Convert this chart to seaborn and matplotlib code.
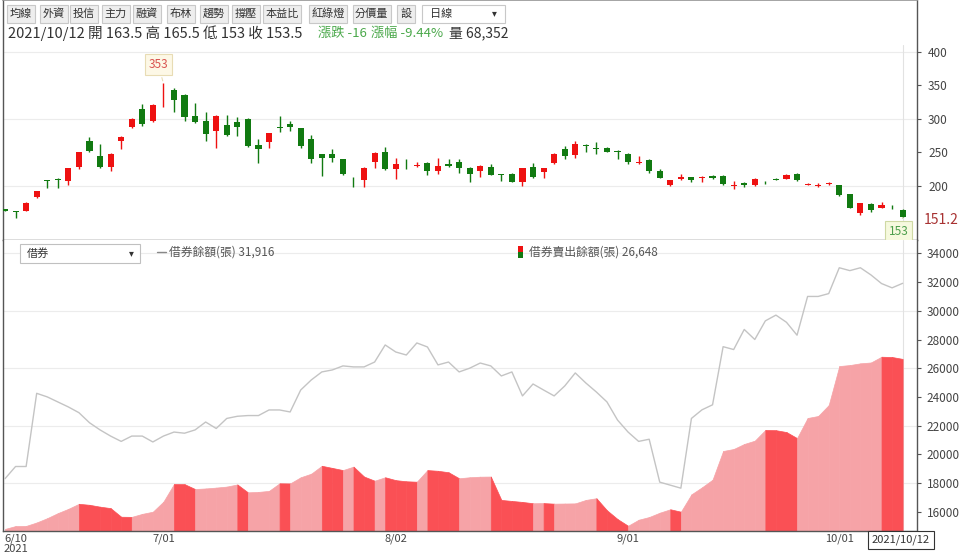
import numpy as np
import pandas as pd
import matplotlib.pyplot as plt
from matplotlib.patches import Rectangle
import seaborn as sns

sns.set_theme(style='white')
plt.rcParams['font.family'] = ['Noto Sans CJK TC', 'DejaVu Sans']
plt.rcParams['axes.unicode_minus'] = False

# 交易日 (2021/6/9 ~ 2021/10/12)
holidays = ['2021-06-14', '2021-09-20', '2021-09-21', '2021-10-11']
dates = pd.bdate_range('2021-06-09', '2021-10-12', freq='C', holidays=holidays)

# K 線
opens = [165, 162, 163, 183, 208.5, 211, 207.5, 229, 267.5, 245,
         228, 267, 288.5, 315, 297, 337, 344, 336, 305, 296.5,
         281.5, 290.5, 295, 300, 261.5, 265, 288, 293, 286.5, 270.5,
         247.5, 248.5, 240, 208, 209, 236.5, 250, 225, 230.5, 230,
         235, 222.5, 232.5, 236.5, 227.5, 222, 229, 218, 218, 206.5,
         229, 220.5, 234, 254.5, 246.5, 261.5, 256, 256.5, 252, 248,
         234.5, 239, 222.5, 201.5, 210.5, 213, 211.5, 215, 215.5, 200.5,
         205, 201, 205, 211, 211, 218.5, 202, 200.5, 203, 201,
         187.5, 159.5, 173.5, 167.5, 170.5, 163.5]
highs = [166, 162.5, 176, 193, 209, 212.5, 227, 251, 273, 262.5,
         249, 274, 301, 322.5, 322, 353, 346.5, 337, 324, 310,
         306, 306.5, 302.5, 301.5, 270, 279.5, 305, 297.5, 287, 276.5,
         248, 255, 241, 214, 228, 250, 257.5, 241.5, 240, 236.5,
         236, 242.5, 240.5, 240, 228, 231, 232.5, 218.5, 219, 227,
         234, 227, 249, 259, 266.5, 262.5, 265, 258, 253, 249,
         245.5, 240, 225.5, 209.5, 218, 213.5, 215.5, 216.5, 216, 207,
         205.5, 211.5, 207, 211.5, 218.5, 219.5, 205, 204.5, 206, 202,
         188, 175, 174, 176, 171, 165.5]
lows = [162, 151.5, 162, 182, 196.5, 197, 201.5, 226, 251, 227,
        223, 255, 286.5, 290, 296, 317.5, 311, 297, 294, 266.5,
        256.5, 275, 274, 258, 235, 256.5, 280, 281.5, 256.5, 235,
        215.5, 236.5, 216, 199, 199, 227.5, 224, 210.5, 225.5, 229,
        216.5, 218, 229, 219, 205.5, 214, 216, 207.5, 206, 200.5,
        212, 212.5, 232.5, 240, 241.5, 250.5, 247.5, 250, 240, 232.5,
        232.5, 220, 212, 200, 209, 205.5, 205.5, 211, 202, 196,
        198.5, 200, 202.5, 209, 210, 208, 201.5, 198.5, 202, 185.5,
        167, 157, 161, 167, 165, 153]
closes = [163, 161, 175, 192.5, 207, 209.5, 226.5, 250, 252.5, 228,
          248.5, 273.5, 300, 292, 321.5, 338, 328, 303, 295.5, 278,
          305, 275.5, 288.5, 259, 255, 279, 287, 287.5, 260, 240,
          241.5, 241.5, 217.5, 207, 227.5, 249, 225, 232.5, 229.5, 231,
          222.5, 230.5, 229.5, 226.5, 218, 230, 216.5, 217, 206.5, 226.5,
          214, 226.5, 248.5, 245, 262.5, 259, 255, 250.5, 251, 236.5,
          235.5, 223, 212.5, 209, 214, 209, 213, 211.5, 202.5, 201.5,
          201, 211, 204, 209.5, 216, 208.5, 203, 201.5, 204, 186,
          167.5, 174.5, 163.5, 172, 169.5, 153.5]

# 借券餘額(張) 與 借券賣出餘額(張)
lend_balance = [18300, 19150, 19150, 24250, 24000, 23650, 23300, 22900, 22200, 21700,
                21270, 20900, 21270, 21270, 20860, 21270, 21550, 21470, 21700, 22250,
                21800, 22500, 22650, 22700, 22700, 23090, 23090, 22950, 24480, 25180,
                25740, 25880, 26160, 26090, 26090, 26430, 27620, 27130, 26920, 27760,
                27480, 26230, 26430, 25740, 26000, 26360, 26160, 25460, 25740, 24070,
                24900, 24480, 24070, 24760, 25670, 24970, 24340, 23650, 22390, 21550,
                20900, 21050, 18060, 17850, 17640, 22500, 23100, 23450, 27500, 27300,
                28700, 28000, 29300, 29700, 29200, 28300, 31000, 31000, 31200, 33000,
                32800, 33000, 32500, 31900, 31600, 31916]
short_balance = [14800, 15000, 15010, 15250, 15550, 15900, 16200, 16550, 16480, 16350,
                 16250, 15650, 15640, 15850, 16000, 16700, 17930, 17920, 17580, 17620,
                 17680, 17750, 17900, 17350, 17380, 17450, 17980, 17970, 18400, 18650,
                 19200, 19050, 18900, 19140, 18450, 18160, 18400, 18200, 18120, 18090,
                 18900, 18850, 18750, 18330, 18400, 18440, 18450, 16820, 16750, 16680,
                 16590, 16600, 16560, 16570, 16580, 16820, 16940, 16100, 15490, 15020,
                 15440, 15630, 15930, 16170, 16000, 17210, 17700, 18230, 20230, 20370,
                 20720, 20950, 21700, 21680, 21550, 21130, 22530, 22670, 23430, 26150,
                 26220, 26340, 26400, 26800, 26780, 26648]

tick_dates = ['2021-06-10', '2021-07-01', '2021-08-02', '2021-09-01', '2021-10-01']
tick_labels = ['6/10\n2021', '7/01', '8/02', '9/01', '10/01']

RED, GREEN = '#ee1111', '#117a11'
DARK, LIGHT = '#fa5055', '#f6a3a7'
W, H = 960, 559


def box(x0, y0, x1, y1):
    return [x0 / W, 1 - y1 / H, (x1 - x0) / W, (y1 - y0) / H]


fig = plt.figure(figsize=(9.6, 5.59), dpi=100)
fig.patch.set_facecolor('white')
ax1 = fig.add_axes(box(3, 0, 917, 240))
ax2 = fig.add_axes(box(3, 240, 917, 531))

x = np.arange(len(dates))
o, h, l, c = map(np.array, (opens, highs, lows, closes))
cols = np.where(c >= o, RED, GREEN)

# ---- 上方 K 線圖 ----
for g in (200, 300, 400):
    ax1.axhline(g, color='#ececec', lw=0.8, zorder=0)
ax1.axvline(x[-1], ymin=0, ymax=(240 - 45) / 240, color='#e2e2e2', lw=0.8, zorder=0)
ax1.vlines(x, l, h, colors=cols, lw=1, zorder=2)
ax1.bar(x, np.maximum(np.abs(c - o), 0.9), bottom=np.minimum(o, c), width=0.58,
        color=cols, linewidth=0, zorder=3)
ax1.set_xlim(-0.19, 86.36)
ax1.set_ylim(119.4, 477.6)
ax1.set_xticks([])
ax1.set_yticks([200, 250, 300, 350, 400])
ax1.yaxis.tick_right()
ax1.tick_params(axis='y', length=3, width=0.8, color='#555', pad=5,
                labelsize=8.5, labelcolor='#444')

imax = int(np.argmax(h))
ax1.annotate(f'{h[imax]:g}', xy=(x[imax], h[imax]), xytext=(-5, 19),
             textcoords='offset pixels', ha='center', va='center',
             fontsize=8.5, color='#d9534f',
             bbox=dict(boxstyle='square,pad=0.3', fc='#fdf8e6', ec='#e8dcb4', lw=0.8),
             arrowprops=dict(arrowstyle='-', color='#e8dcb4', lw=0.8))
ax1.annotate(f'{l[-1]:g}', xy=(x[-1], l[-1]), xytext=(-4, -14),
             textcoords='offset pixels', ha='center', va='center',
             fontsize=8.5, color='#4c9e4c',
             bbox=dict(boxstyle='square,pad=0.3', fc='#f6f9de', ec='#cfd9a4', lw=0.8),
             arrowprops=dict(arrowstyle='-', color='#cfd9a4', lw=0.8))

# ---- 下方 借券 ----
ybot = 14655
for i in range(len(x) - 1):
    col = DARK if short_balance[i + 1] < short_balance[i] else LIGHT
    ax2.fill_between([x[i], x[i + 1]], [short_balance[i], short_balance[i + 1]], ybot - 500,
                     color=col, lw=0.5, zorder=2)
for g in (18000, 22000, 26000, 30000, 34000):
    ax2.axhline(g, color='#ececec', lw=0.8, zorder=0)
ax2.axvline(x[-1], color='#e2e2e2', lw=0.8, zorder=0)
sns.lineplot(x=x, y=lend_balance, ax=ax2, color='#c4c4c4', lw=1, zorder=3)
ax2.set_xlim(-0.19, 86.36)
ax2.set_ylim(ybot, 34934)
ax2.set_yticks(range(16000, 34001, 2000))
ax2.yaxis.tick_right()
ax2.tick_params(axis='y', length=3, width=0.8, color='#555', pad=4,
                labelsize=8.5, labelcolor='#444')
date_pos = [dates.get_loc(pd.Timestamp(d)) for d in tick_dates]
ax2.set_xticks(date_pos)
ax2.set_xticklabels(tick_labels, linespacing=1.0)
ax2.tick_params(axis='x', length=0, pad=2, labelsize=8, labelcolor='#444')

for ax in (ax1, ax2):
    for s in ('left', 'right', 'bottom'):
        ax.spines[s].set_color('#555')
        ax.spines[s].set_linewidth(1)
ax1.spines['top'].set_color('#999')
ax2.spines['top'].set_visible(False)

# ---- 工具列與文字 ----
ov = fig.add_axes([0, 0, 1, 1])
ov.set_xlim(0, W)
ov.set_ylim(H, 0)
ov.axis('off')

buttons = [('均線', 20.7, 14), ('外資', 54, 14), ('投信', 84, 14), ('主力', 115.7, 14),
           ('融資', 147, 14), ('布林', 180.7, 14), ('趨勢', 214, 14), ('撐壓', 245.7, 14),
           ('本益比', 282, 19), ('紅綠燈', 328, 19), ('分價量', 371.7, 19), ('設', 406, 9)]
for lab, cx, hw in buttons:
    ov.add_patch(Rectangle((cx - hw, 5), 2 * hw, 18, fc='#eeeeee', ec='#c8c8c8', lw=0.8))
    ov.text(cx, 14, lab, ha='center', va='center', fontsize=8, color='#333')
ov.add_patch(Rectangle((422, 5), 83, 18, fc='white', ec='#c8c8c8', lw=0.8))
ov.text(430, 14, '日線', ha='left', va='center', fontsize=8, color='#333')
ov.text(494, 13, '▾', ha='center', va='center', fontsize=7, color='#333')

ov.text(8, 33, '2021/10/12 開 163.5 高 165.5 低 153 收 153.5', ha='left', va='center',
        fontsize=10.5, color='#333')
ov.text(318, 33, '漲跌 -16', ha='left', va='center', fontsize=9.5, color='#4aa84a')
ov.text(371, 33, '漲幅 -9.44%', ha='left', va='center', fontsize=9.5, color='#4aa84a')
ov.text(449, 33, '量 68,352', ha='left', va='center', fontsize=10, color='#333')

ov.text(924, 220, '151.2', ha='left', va='center', fontsize=10, color='#a83232')

ov.add_patch(Rectangle((20, 244), 120, 19, fc='white', ec='#c0c0c0', lw=0.8))
ov.text(27, 253.5, '借券', ha='left', va='center', fontsize=8, color='#333')
ov.text(131, 253, '▾', ha='center', va='center', fontsize=7, color='#333')
ov.plot([157, 166], [252, 252], color='#888', lw=1)
ov.text(169, 252, f'借券餘額(張) {lend_balance[-1]:,}', ha='left', va='center',
        fontsize=8.5, color='#555')
ov.add_patch(Rectangle((518, 246), 5, 6, fc=RED, ec='none'))
ov.add_patch(Rectangle((518, 252), 5, 6, fc=GREEN, ec='none'))
ov.text(529, 252, f'借券賣出餘額(張) {short_balance[-1]:,}', ha='left', va='center',
        fontsize=8.5, color='#555')

ov.text(901, 540, dates[-1].strftime('%Y/%m/%d'), ha='center', va='center', fontsize=8,
        color='#333', bbox=dict(boxstyle='square,pad=0.35', fc='white', ec='#333', lw=0.8))

fig.savefig('out.png', dpi=100)
